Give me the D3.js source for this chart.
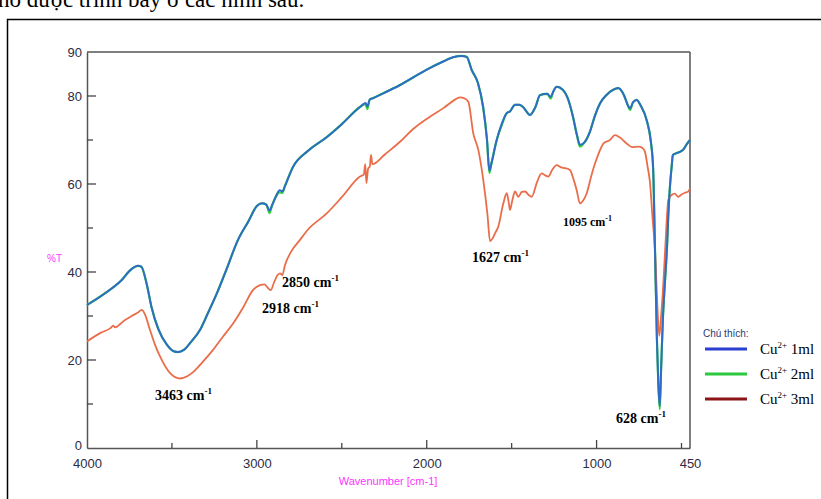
<!DOCTYPE html>
<html><head><meta charset="utf-8">
<script src="https://cdn.jsdelivr.net/npm/d3@7/dist/d3.min.js"></script>
<style>html,body{margin:0;padding:0;background:#fff;overflow:hidden}</style>
</head><body>
<svg id="chart" width="821" height="499"></svg>
<script>
// ---------- data ----------
const wnBlue = [4000,3900,3800,3740,3700,3680,3650,3620,3580,3530,3490,3464,3430,3390,3335,3290,3235,3180,3111,3050,3000,2970,2945,2925,2910,2890,2865,2850,2835,2787,2700,2587,2500,2393,2360,2350,2335,2316,2300,2157,2000,1900,1845,1794,1765,1735,1698,1668,1645,1631,1620,1588,1560,1529,1510,1480,1455,1433,1392,1360,1333,1290,1270,1255,1235,1198,1170,1139,1115,1098,1070,1039,1010,980,940,903,873,840,815,803,785,764,740,705,680,667,656,645,637,628,620,610,597,585,578,565,558,551,530,510,490,470,450];
const tBlue  = [32.5,35.0,38.0,40.6,41.4,41.2,37.5,32.0,27.0,23.5,22.0,21.8,22.3,24.0,26.8,30.5,35.2,40.5,47.3,51.5,55.0,55.6,55.3,54.0,55.2,57.0,58.6,58.3,59.5,63.9,67.5,70.7,73.6,77.5,78.4,77.6,79.2,79.5,79.8,82.5,86.0,87.9,88.8,89.1,88.9,85.9,82.9,77.5,70.0,63.0,64.5,70.0,73.5,76.1,76.5,78.0,78.0,77.5,75.7,77.5,80.2,80.5,79.8,81.0,82.1,81.4,79.5,75.3,71.0,68.9,69.5,71.9,75.5,78.3,80.3,81.4,81.8,80.3,77.8,77.2,78.6,79.1,77.8,74.5,69.5,63.5,45.0,25.0,15.0,9.5,18.0,29.0,38.0,46.0,52.6,61.0,63.9,66.6,67.0,67.3,67.8,69.0,70.0];
const tGreen = [32.5,35.0,38.0,40.6,41.4,41.2,37.5,32.0,27.0,23.5,22.0,21.8,22.3,24.0,26.8,30.5,35.2,40.5,47.3,51.5,55.0,55.6,55.3,53.4,55.2,57.0,58.1,58.0,59.5,63.9,67.5,70.7,73.6,77.5,78.2,77.0,79.2,79.5,79.8,82.5,86.0,87.9,88.8,89.1,88.9,85.9,82.9,77.5,70.0,62.5,64.5,70.0,73.2,76.1,76.5,78.0,78.0,77.5,75.7,77.5,80.2,80.5,79.4,81.0,82.1,81.4,79.5,75.3,71.0,68.5,69.5,71.9,75.5,78.3,80.3,81.4,81.8,80.3,77.8,76.8,78.6,79.1,77.8,74.5,69.5,63.5,45.0,25.0,15.0,8.8,18.0,29.0,38.0,46.0,52.6,61.0,63.9,66.6,67.0,67.3,67.8,69.0,70.0];
const wnOrange = [4000,3923,3860,3845,3835,3780,3737,3700,3678,3660,3629,3600,3570,3511,3452,3410,3374,3320,3258,3200,3140,3080,3023,2981,2955,2940,2918,2900,2880,2864,2850,2835,2800,2746,2700,2589,2500,2393,2370,2362,2355,2345,2335,2328,2320,2310,2250,2157,2080,1981,1900,1840,1804,1780,1755,1726,1696,1667,1643,1627,1610,1595,1579,1549,1529,1518,1510,1495,1480,1461,1440,1421,1400,1382,1350,1323,1300,1284,1260,1235,1210,1186,1157,1135,1117,1098,1080,1058,1030,1009,985,960,921,892,860,823,790,754,730,715,700,686,670,656,645,631,620,607,595,585,578,558,540,519,500,480,460,450];
const tOrange  = [24.2,26.1,27.3,27.8,27.4,29.0,30.0,30.8,31.4,30.5,26.8,23.5,20.8,17.0,15.8,16.3,17.3,19.5,22.3,25.3,28.3,32.0,35.9,37.0,37.2,36.6,35.9,37.5,39.2,39.7,39.3,41.5,44.5,47.3,49.6,53.3,57.0,61.7,62.2,64.5,60.2,63.5,64.0,66.6,64.5,64.6,66.6,69.6,72.5,75.3,77.3,79.0,79.7,79.5,78.7,71.5,67.7,60.9,53.3,47.0,47.8,49.0,50.3,55.6,57.9,56.0,54.1,56.5,58.3,57.1,58.2,58.3,57.5,57.1,60.5,62.4,61.9,61.7,63.3,64.3,63.8,63.6,63.2,61.0,58.6,55.6,56.2,57.9,62.0,64.7,67.2,69.2,70.0,71.1,70.5,69.2,68.4,68.5,68.2,67.3,64.0,60.5,52.0,45.0,35.0,25.5,30.0,37.4,46.0,53.0,56.4,57.5,57.8,57.1,57.6,58.0,58.3,59.0];

const xTickLabels = [4000, 3000, 2000, 1000, 450];
const xMinorTicks = [3500, 2500, 1500, 500];
const yTickLabels = [0, 20, 40, 60, 80, 90];
const yMinorTicks = [10, 30, 50, 70];
const seriesNames = ["1ml", "2ml", "3ml"];
const peakLabels = ["3463", "2918", "2850", "1627", "1095", "628"];
const captionText = "hổ được trình bày ở các hình sau.";
const legendTitle = "Chú thích:";
const yTitle = "%T";
const xTitle = "Wavenumber [cm-1]";

// ---------- drawing ----------
const svg = d3.select("#chart");
const x = d3.scaleLinear().domain([4000, 450]).range([87, 690]);
const y = d3.scaleLinear().domain([0, 90]).range([448, 52]);

// caption (partly above the page edge, as in the reference)
svg.append("text").attr("x", -2).attr("y", 7)
  .attr("font-family", "Liberation Serif, Times New Roman, serif")
  .attr("font-size", 23).attr("fill", "#000").text(captionText);

// outer frame
svg.append("rect").attr("x", 7.5).attr("y", 19.5).attr("width", 900).attr("height", 600)
  .attr("fill", "none").attr("stroke", "#000").attr("stroke-width", 1.5);

// plot frame
const axisCol = "#555";
const fr = svg.append("g").attr("stroke", axisCol).attr("stroke-width", 1.5).attr("fill", "none");
fr.append("line").attr("x1", x(4000)).attr("x2", x(450)).attr("y1", y(90)).attr("y2", y(90));
fr.append("line").attr("x1", x(450)).attr("x2", x(450)).attr("y1", y(90)).attr("y2", y(0));

// axes
const yAxis = d3.axisLeft(y).tickValues(yTickLabels).tickSize(0).tickPadding(5).tickFormat(d3.format("d"));
const gy = svg.append("g").attr("transform", `translate(${x(4000)},0)`).call(yAxis);
const xAxis = d3.axisBottom(x).tickValues(xTickLabels).tickSize(0).tickPadding(11).tickFormat(d3.format("d"));
const gx = svg.append("g").attr("transform", `translate(0,${y(0)})`).call(xAxis);
[gx, gy].forEach(g => {
  g.select(".domain").attr("stroke", axisCol).attr("stroke-width", 1.5);
  g.selectAll("text").attr("font-family", "Liberation Sans, Arial, sans-serif")
    .attr("font-size", 13).attr("fill", "#2c2c44");
});
gy.selectAll(".tick text").attr("dy", "0.36em");
gy.selectAll(".tick").filter(d => d === 0).select("text").attr("dy", "0.1em");

// inward ticks
const tk = svg.append("g").attr("stroke", "#444").attr("stroke-width", 1.3);
tk.selectAll(".ymaj").data([20, 40, 60, 80]).join("line")
  .attr("x1", x(4000)).attr("x2", x(4000) + 9).attr("y1", d => y(d)).attr("y2", d => y(d));
tk.selectAll(".ymin").data(yMinorTicks).join("line")
  .attr("x1", x(4000)).attr("x2", x(4000) + 6).attr("y1", d => y(d)).attr("y2", d => y(d));
tk.selectAll(".xmaj").data([3000, 2000, 1000]).join("line")
  .attr("x1", d => x(d)).attr("x2", d => x(d)).attr("y1", y(0)).attr("y2", y(0) - 8);
tk.selectAll(".xmin").data(xMinorTicks).join("line")
  .attr("x1", d => x(d)).attr("x2", d => x(d)).attr("y1", y(0)).attr("y2", y(0) - 5);

// titles
svg.append("text").attr("x", 47).attr("y", 262).attr("font-family", "Liberation Sans, Arial, sans-serif")
  .attr("font-size", 10).attr("fill", "#ff33ff").text(yTitle);
svg.append("text").attr("x", 388).attr("y", 485).attr("text-anchor", "middle")
  .attr("font-family", "Liberation Sans, Arial, sans-serif")
  .attr("font-size", 11).attr("fill", "#ff33ff").text(xTitle);

// curves
const line = d3.line().x(d => x(d[0])).y(d => y(d[1])).curve(d3.curveMonotoneX);
const zip = (a, b) => a.map((v, i) => [v, b[i]]);
svg.append("path").datum(zip(wnBlue, tGreen)).attr("d", line)
  .attr("fill", "none").attr("stroke", "#33d43a").attr("stroke-width", 2.2);
svg.append("path").datum(zip(wnOrange, tOrange)).attr("d", line)
  .attr("fill", "none").attr("stroke", "#ea6d4a").attr("stroke-width", 1.8);
svg.append("path").datum(zip(wnBlue, tBlue)).attr("d", line)
  .attr("fill", "none").attr("stroke", "#2e6cc6").attr("stroke-width", 2);

// peak annotations
const peakPos = [[155, 400], [262, 313], [282, 287], [472, 262], [563, 226], [616, 423]];
peakLabels.forEach((p, i) => {
  const small = p === "1095";
  const t = svg.append("text").attr("x", peakPos[i][0]).attr("y", peakPos[i][1])
    .attr("font-family", "Liberation Serif, Times New Roman, serif")
    .attr("font-weight", "bold").attr("font-size", small ? 12 : 14).attr("fill", "#000");
  t.append("tspan").text(p + " cm");
  t.append("tspan").attr("dy", small ? -5 : -6).attr("font-size", small ? 8 : 9).text("-1");
});

// legend
const lg = svg.append("g");
lg.append("text").attr("x", 703).attr("y", 337).attr("font-family", "Liberation Sans, Arial, sans-serif")
  .attr("font-size", 10).attr("fill", "#1e3a78").text(legendTitle);
const legCols = ["#2a3fd0", "#2bc840", "#8c1414"];
const legY = [349, 374, 399];
seriesNames.forEach((n, i) => {
  lg.append("line").attr("x1", 705).attr("x2", 747).attr("y1", legY[i]).attr("y2", legY[i])
    .attr("stroke", legCols[i]).attr("stroke-width", 3);
  const t = lg.append("text").attr("x", 760).attr("y", legY[i] + 5)
    .attr("font-family", "Liberation Serif, Times New Roman, serif")
    .attr("font-size", 15).attr("fill", "#000");
  t.append("tspan").text("Cu");
  t.append("tspan").attr("dy", -6).attr("font-size", 9).text("2+");
  t.append("tspan").attr("dy", 6).text(" " + n);
});
</script>
</body></html>
